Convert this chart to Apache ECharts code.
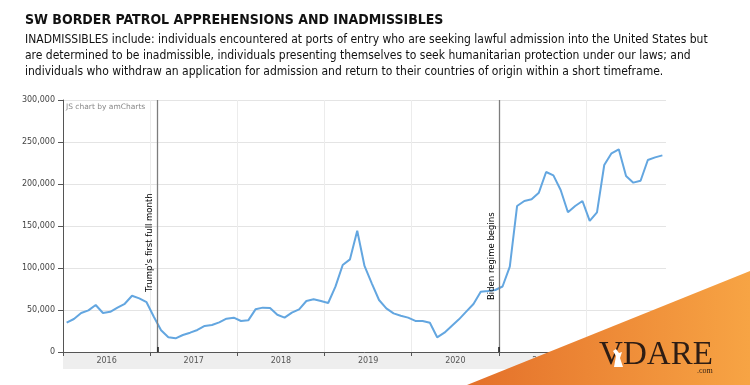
<!DOCTYPE html>
<html><head><meta charset="utf-8">
<script src="https://cdn.jsdelivr.net/npm/echarts@6/dist/echarts.min.js"></script>
<style>html,body{margin:0;padding:0;background:#fff}#c{width:750px;height:385px}</style>
</head><body><div id="c"></div>
<script>
const titleText = 'SW BORDER PATROL APPREHENSIONS AND INADMISSIBLES';
const subtitleLines = [
  'INADMISSIBLES include: individuals encountered at ports of entry who are seeking lawful admission into the United States but',
  'are determined to be inadmissible, individuals presenting themselves to seek humanitarian protection under our laws; and',
  'individuals who withdraw an application for admission and return to their countries of origin within a short timeframe.'
];
const years = ['2016', '2017', '2018', '2019', '2020', '2021', '2022'];
// monthly values, January .. December of each year (2022 ends in November)
const v2016 = [34900, 39300, 46400, 49500, 56000, 46400, 47800, 52800, 57400, 67000, 63900, 59300];
const v2017 = [42000, 25800, 17500, 16300, 20200, 23000, 26200, 31000, 32100, 35300, 39700, 40900];
const v2018 = [36900, 37700, 50800, 52800, 52400, 44400, 40900, 46800, 50800, 60700, 62700, 60700];
const v2019 = [58300, 77800, 103600, 110300, 144400, 102400, 81800, 61900, 52000, 46000, 43200, 40900];
const v2020 = [37000, 36900, 34900, 17500, 23000, 31000, 38900, 48000, 57100, 71800, 72600, 73800];
const v2021 = [78000, 101600, 173800, 179800, 181800, 189700, 214300, 210300, 192900, 166300, 173800, 179800];
const v2022 = [156000, 166300, 222600, 236500, 241300, 209500, 201600, 203900, 228600, 231700, 234100];
const guides = [
  { text: "Trump's first full month", year: '2017', month: 2 },
  { text: 'Biden regime begins', year: '2021', month: 1 }
];
const creditText = 'JS chart by amCharts';

const allValues = [].concat(v2016, v2017, v2018, v2019, v2020, v2021, v2022);
const nMonths = allValues.length;
const seriesData = allValues.map((v, i) => [i + 0.5, v]);
const yearStarts = years.map((y, i) => i * 12);
const yearMids = years.map((y, i) => i * 12 + 6);
const guideVals = guides.map(g => years.indexOf(g.year) * 12 + g.month - 1);

const chart = echarts.init(document.getElementById('c'), null, { renderer: 'canvas' });
const narrow = "'Liberation Sans Narrow', 'DejaVu Sans Condensed', 'Liberation Sans', sans-serif";
const small = "'DejaVu Sans', Verdana, sans-serif";

chart.setOption({
  animation: false,
  backgroundColor: '#ffffff',
  title: {
    text: titleText,
    subtext: subtitleLines.join('\n'),
    left: 20, top: 8,
    itemGap: 5,
    textStyle: { fontFamily: narrow, fontWeight: 'bold', fontSize: 14, color: '#111' },
    subtextStyle: { fontFamily: narrow, fontSize: 12, color: '#111', lineHeight: 16 }
  },
  grid: { left: 63, right: 84, top: 100, bottom: 33, containLabel: false },
  xAxis: {
    type: 'value', min: 0, max: nMonths,
    axisLine: { show: true, lineStyle: { color: '#555', width: 1 } },
    axisTick: { show: true, customValues: yearStarts, length: 4, lineStyle: { color: '#555' } },
    axisLabel: {
      show: true, customValues: yearMids, margin: 5,
      formatter: v => years[Math.round((v - 6) / 12)] || '',
      fontFamily: small, fontSize: 8, color: '#555'
    },
    splitLine: { show: true, lineStyle: { color: '#ececec', width: 1 } }
  },
  yAxis: {
    type: 'value', min: 0, max: 300000, interval: 50000,
    axisLine: { show: true, lineStyle: { color: '#555', width: 1 } },
    axisTick: { show: true, length: 5, lineStyle: { color: '#555' } },
    axisLabel: {
      margin: 8, fontFamily: small, fontSize: 8, color: '#444',
      formatter: v => v.toLocaleString('en-US')
    },
    splitLine: { show: true, lineStyle: { color: '#e4e4e4', width: 1.2 } }
  },
  series: [{
    type: 'line',
    data: seriesData,
    showSymbol: false,
    symbol: 'none',
    lineStyle: { color: '#63a6e0', width: 2 },
    z: 3,
    markLine: {
      silent: true, symbol: 'none', animation: false,
      lineStyle: { color: '#7d7d7d', width: 1.3, type: 'solid' },
      label: {
        show: true, position: 'insideStartTop', distance: 3,
        fontFamily: small, fontSize: 8.5, color: '#000'
      },
      data: [
        { xAxis: guideVals[0], label: { formatter: guides[0].text, padding: [0, 0, 0, 57] } },
        { xAxis: guideVals[1], label: { formatter: guides[1].text, padding: [0, 0, 0, 49] } },
        [{ coord: [guideVals[0], 0], lineStyle: { color: '#222', width: 1.6 }, label: { show: false } },
         { coord: [guideVals[0], 6000] }],
        [{ coord: [guideVals[1], 0], lineStyle: { color: '#222', width: 1.6 }, label: { show: false } },
         { coord: [guideVals[1], 6000] }]
      ]
    }
  }],
  graphic: [
    { type: 'rect', left: 63, top: 353, shape: { width: 603, height: 16 }, style: { fill: '#eeeeee' }, z: -10, silent: true },
    { type: 'text', left: 66, top: 103, style: { text: creditText, fill: '#888', font: "7.5px 'DejaVu Sans', sans-serif" }, z: 10, silent: true },
    { type: 'polygon', shape: { points: [[467, 385], [750, 271], [750, 385]] },
      style: { fill: new echarts.graphic.LinearGradient(0, 0, 1, 0, [
        { offset: 0, color: '#e4702a' }, { offset: 1, color: '#f7a444' }]) }, z: 50, silent: true },
    { type: 'text', left: 599, top: 339, style: { text: 'V', fill: '#2e1d14', font: "33px 'Liberation Serif', serif" }, z: 52, silent: true },
    { type: 'text', left: 623, top: 339, style: { text: 'DARE', fill: '#2e1d14', font: "33px 'Liberation Serif', serif" }, z: 52, silent: true },
    { type: 'polygon', shape: { points: [[614, 367], [616, 356], [613, 351], [616, 349], [619, 353], [622, 352], [620, 358], [623, 367]] },
      style: { fill: '#ffffff' }, z: 53, silent: true },
    { type: 'text', left: 697, top: 367, style: { text: '.com', fill: '#2e1d14', font: "8px 'Liberation Serif', serif" }, z: 52, silent: true }
  ]
});
</script>
</body></html>
